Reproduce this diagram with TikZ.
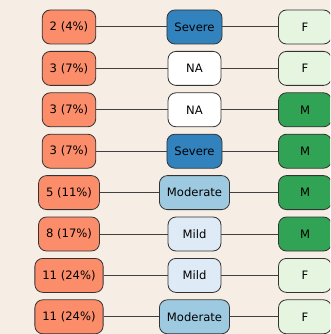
\documentclass[tikz,border=0pt]{standalone}
\usepackage{fontspec}
\setmainfont{DejaVu Sans}
\definecolor{bgcol}{HTML}{F6EDE5}
\definecolor{countcol}{HTML}{FC8D6B}
\definecolor{sevSevere}{HTML}{3182BD}
\definecolor{sevModerate}{HTML}{9ECAE1}
\definecolor{sevMild}{HTML}{DEEBF7}
\definecolor{sevNA}{HTML}{FFFFFF}
\definecolor{sexM}{HTML}{31A354}
\definecolor{sexF}{HTML}{E5F5E0}
\tikzset{
  box/.style={draw=black!80, line width=0.8pt, rounded corners=8pt,
    minimum height=34pt, minimum width=53pt, inner xsep=7.5pt,
    font=\fontsize{11.6}{13}\selectfont},
  link/.style={draw=black!75, line width=1pt}
}
\begin{document}
\begin{tikzpicture}[x=1pt, y=-1pt]
		%background
		\fill[bgcol] (0,0) rectangle (330,334);
		\clip (0,0) rectangle (330,334);
		
		\foreach \cnt/\sev/\sex [count=\i] in {2 (4\%)/Severe/F, 3 (7\%)/NA/F, 3 (7\%)/NA/M, 3 (7\%)/Severe/M, 5 (11\%)/Moderate/M, 8 (17\%)/Mild/M, 11 (24\%)/Mild/F, 11 (24\%)/Moderate/F}{
			\node[box, fill=countcol] (cnt\i) at (69, {27+41.4*(\i-1)}) {\cnt};
			\node[box, fill=sev\sev] (sev\i) at (194.5, {27+41.4*(\i-1)}) {\sev};
			\node[box, fill=sex\sex] (sex\i) at (305, {27+41.4*(\i-1)}) {\sex};
			\draw[link] (cnt\i) -- (sev\i);
			\draw[link] (sev\i) -- (sex\i);
		}
\end{tikzpicture}
\end{document}
